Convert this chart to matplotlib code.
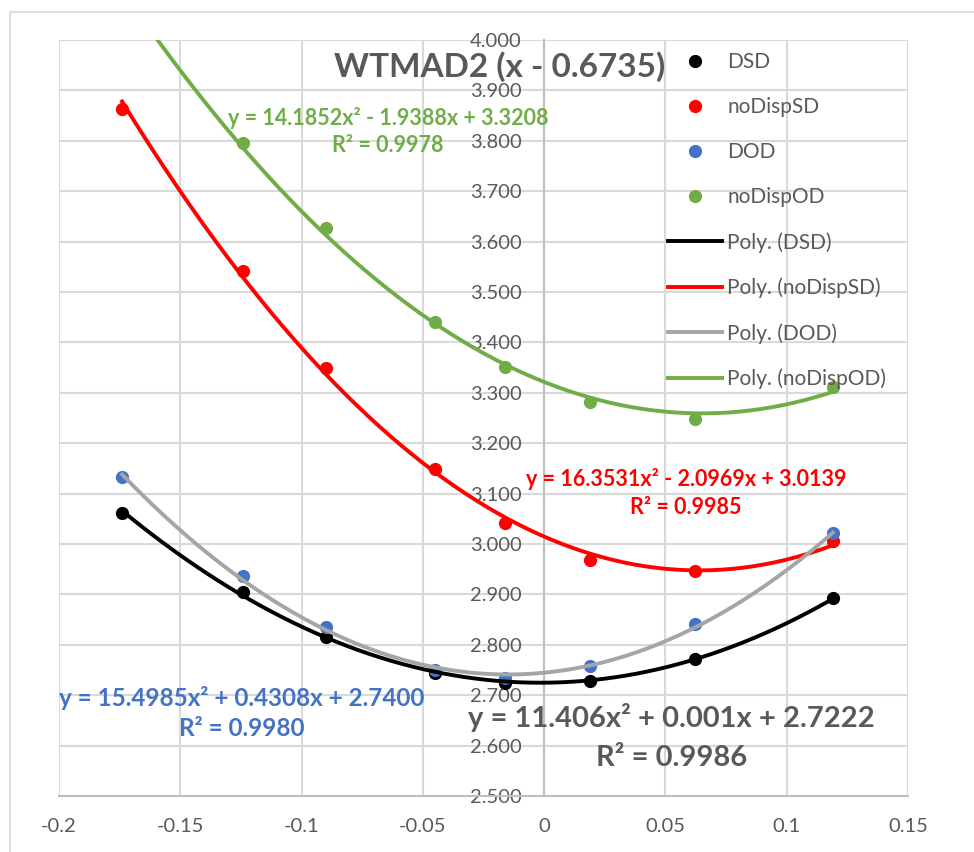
import numpy as np
import matplotlib.pyplot as plt
from matplotlib.patches import Rectangle

plt.rcParams['font.family'] = ['Lato', 'DejaVu Sans']

# x = shift relative to 0.6735
x = np.array([-0.174, -0.124, -0.090, -0.045, -0.016, 0.019, 0.062, 0.119])

dsd = np.array([3.062, 2.904, 2.815, 2.745, 2.725, 2.728, 2.772, 2.892])
nodisp_sd = np.array([3.864, 3.542, 3.350, 3.148, 3.041, 2.968, 2.946, 3.005])
dod = np.array([3.132, 2.937, 2.835, 2.750, 2.734, 2.757, 2.841, 3.021])
nodisp_od = np.array([4.088, 3.795, 3.626, 3.440, 3.352, 3.281, 3.249, 3.312])

names = ['DSD', 'noDispSD', 'DOD', 'noDispOD']
series = [dsd, nodisp_sd, dod, nodisp_od]
dot_colors = ['#000000', '#FF0000', '#4472C4', '#70AD47']
line_colors = ['#000000', '#FF0000', '#A5A5A5', '#70AD47']

W, H = 974, 852
def fx(px):
    return px / W
def fy(py):
    return 1 - py / H

fig = plt.figure(figsize=(W / 100, H / 100), dpi=100)
fig.patches.append(Rectangle((fx(10), -0.1), 1.2, fy(12) + 0.1, transform=fig.transFigure,
                             fill=False, edgecolor='#d9d9d9', linewidth=1.2))

ax = fig.add_axes([fx(59), fy(796), fx(908) - fx(59), fy(40) - fy(796)])
ax.set_xlim(-0.2, 0.15)
ax.set_ylim(2.5, 4.0)

# scatter points
for name, y, c in zip(names, series, dot_colors):
    ax.plot(x, y, 'o', color=c, markersize=8.5, label=name, zorder=3)

# 2nd order polynomial trendlines
xs = np.linspace(x.min(), x.max(), 200)
for name, y, c in zip(names, series, line_colors):
    coef = np.polyfit(x, y, 2)
    ax.plot(xs, np.polyval(coef, xs), '-', color=c, linewidth=2.8,
            label='Poly. (%s)' % name, zorder=4)

ax.set_xticks(np.arange(-0.2, 0.151, 0.05))
ax.set_xticklabels(['-0.2', '-0.15', '-0.1', '-0.05', '0', '0.05', '0.1', '0.15'])
ax.set_yticks(np.arange(2.5, 4.001, 0.1))
ax.set_yticklabels(['%.3f' % v for v in np.arange(2.5, 4.001, 0.1)])
ax.grid(True, color='#d9d9d9', linewidth=1.5, zorder=0)
ax.set_axisbelow(True)
for s in ['top', 'right']:
    ax.spines[s].set_visible(False)
ax.spines['left'].set_position(('data', 0))
ax.spines['left'].set_color('#bfbfbf')
ax.spines['left'].set_linewidth(1.5)
ax.spines['bottom'].set_color('#bfbfbf')
ax.spines['bottom'].set_linewidth(1.5)
ax.tick_params(axis='both', length=0, labelsize=14.5, labelcolor='#595959')
ax.tick_params(axis='y', pad=16)
ax.tick_params(axis='x', pad=16)

leg = ax.legend(loc='upper left', bbox_to_anchor=(fx(668), fy(52)),
                bbox_transform=fig.transFigure, frameon=False, fontsize=15,
                handlelength=2.6, handletextpad=0.25, labelspacing=1.2,
                borderpad=0, borderaxespad=0)
for t in leg.get_texts():
    t.set_color('#595959')

fig.text(fx(500), fy(67), 'WTMAD2 (x - 0.6735)', ha='center', va='center',
         fontsize=24, fontweight='bold', color='#595959')

# trendline equations
fig.text(fx(388), fy(118), 'y = 14.1852x² - 1.9388x + 3.3208', ha='center', va='center',
         fontsize=15.5, fontweight='bold', color='#70AD47')
fig.text(fx(388), fy(146), 'R² = 0.9978', ha='center', va='center',
         fontsize=15.5, fontweight='bold', color='#70AD47')

fig.text(fx(686), fy(479), 'y = 16.3531x² - 2.0969x + 3.0139', ha='center', va='center',
         fontsize=15.5, fontweight='bold', color='#FF0000')
fig.text(fx(686), fy(508), 'R² = 0.9985', ha='center', va='center',
         fontsize=15.5, fontweight='bold', color='#FF0000')

fig.text(fx(242), fy(698), 'y = 15.4985x² + 0.4308x + 2.7400', ha='center', va='center',
         fontsize=17.5, fontweight='bold', color='#4472C4')
fig.text(fx(242), fy(729), 'R² = 0.9980', ha='center', va='center',
         fontsize=17.5, fontweight='bold', color='#4472C4')

fig.text(fx(671), fy(718), 'y = 11.406x² + 0.001x + 2.7222', ha='center', va='center',
         fontsize=21, fontweight='bold', color='#595959')
fig.text(fx(672), fy(758), 'R² = 0.9986', ha='center', va='center',
         fontsize=21, fontweight='bold', color='#595959')

fig.savefig('out.png', dpi=100)
